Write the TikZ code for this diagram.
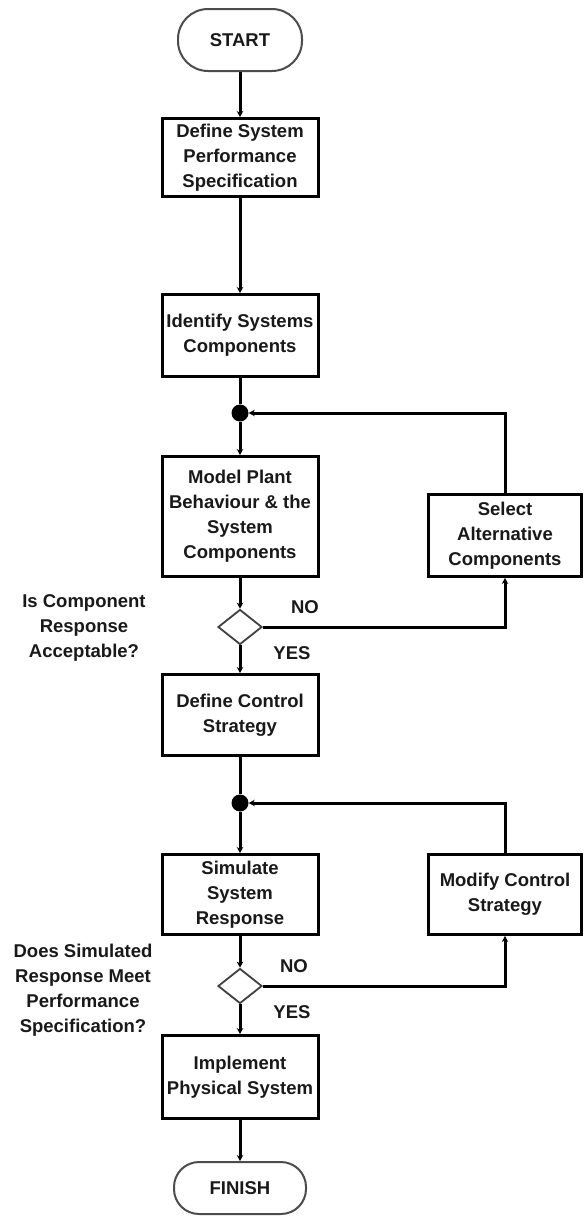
\documentclass[tikz,border=0pt]{standalone}
\usepackage{fontspec}
\setmainfont{Liberation Sans}
\usetikzlibrary{arrows.meta,shapes.geometric}
\begin{document}
\begin{tikzpicture}[x=1pt,y=-1pt,
  every node/.style={font=\bfseries\fontsize{18.5}{25}\selectfont, text=black!90},
  procbox/.style={draw, line width=3pt, minimum width=156pt, align=center, inner sep=0pt},
  term/.style={draw=black!70, line width=2pt, align=center, inner sep=0pt},
  decis/.style={draw=black!75, line width=1.8pt, diamond, shape aspect=1.26, minimum width=44pt, minimum height=35pt, inner sep=0pt},
  conn/.style={line width=3pt},
  arr/.style={line width=3pt, -{Stealth[length=6pt,width=6.5pt]}},
  jdot/.style={circle, fill=black, inner sep=0pt, minimum size=17pt},
  lbl/.style={align=center, inner sep=0pt}
]
\useasboundingbox[fill=white] (0,0) rectangle (584,1216);

% terminals
\node[term, minimum width=124pt, minimum height=62pt, rounded corners=30pt] (start) at (240,40) {START};
\node[term, minimum width=132pt, minimum height=52pt, rounded corners=25pt] (finish) at (240,1188) {FINISH};

% process boxes
\node[procbox, minimum height=78pt] (b1) at (240,157.5) {Define System\\Performance\\Specification};
\node[procbox, minimum height=82pt] (b2) at (240,335.5) {Identify Systems\\Components};
\node[procbox, minimum height=120pt] (b3) at (240,516.5) {Model Plant\\Behaviour \& the\\System\\Components};
\node[procbox, minimum width=153pt, minimum height=82pt] (sel) at (505,535.5) {Select\\Alternative\\Components};
\node[procbox, minimum height=81pt] (b4) at (240,715) {Define Control\\Strategy};
\node[procbox, minimum height=80pt] (b5) at (240,894.5) {Simulate\\System\\Response};
\node[procbox, minimum width=153pt, minimum height=80pt] (mod) at (505,894.5) {Modify Control\\Strategy};
\node[procbox, minimum height=83pt] (b6) at (240,1077) {Implement\\Physical System};

% junctions
\node[jdot] (j1) at (240,413) {};
\node[jdot] (j2) at (240,803) {};

% decisions
\node[decis] (d1) at (240,627) {};
\node[decis] (d2) at (240,986) {};

% labels
\node[lbl] (q1) at (84,628) {Is Component\\Response\\Acceptable?};
\node[lbl] (q2) at (83,990) {Does Simulated\\Response Meet\\Performance\\Specification?};
\node[lbl] (no1) at (305,607) {NO};
\node[lbl] (yes1) at (292,653) {YES};
\node[lbl] (no2) at (294,966) {NO};
\node[lbl] (yes2) at (292,1012) {YES};

% connectors
\draw[arr] (start) -- (b1);
\draw[arr] (b1) -- (b2);
\draw[conn] (b2) -- (j1);
\draw[arr] (j1) -- (b3);
\draw[arr] (b3) -- (d1);
\draw[arr] (d1) -- (b4);
\draw[arr] (d1.east) -| (sel.south);
\draw[arr] (sel.north) |- (j1.east);
\draw[conn] (b4) -- (j2);
\draw[arr] (j2) -- (b5);
\draw[arr] (b5) -- (d2);
\draw[arr] (d2) -- (b6);
\draw[arr] (d2.east) -| (mod.south);
\draw[arr] (mod.north) |- (j2.east);
\draw[arr] (b6) -- (finish);
\end{tikzpicture}
\end{document}
